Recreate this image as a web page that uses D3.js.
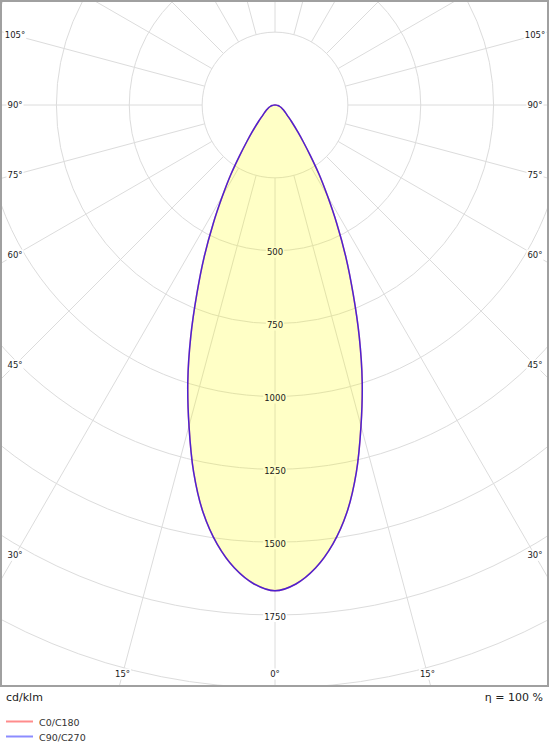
<!DOCTYPE html>
<html>
<head>
<meta charset="utf-8">
<script src="https://cdn.jsdelivr.net/npm/d3@7"></script>
<style>
  html, body { margin: 0; padding: 0; background: #fff; }
  svg { display: block; font-family: "DejaVu Sans", Verdana, sans-serif; }
</style>
</head>
<body>
<svg id="chart" width="550" height="750"></svg>
<script>
// ---- data ----
const gammaAngles = [0, 2.5, 5, 7.5, 10, 12.5, 15, 17.5, 20, 22.5, 25, 27.5, 30, 32.5, 35, 37.5, 40, 45, 50, 55, 60, 65, 70, 75, 80, 85, 90];
const c0c180 =      [1667, 1645, 1595, 1520, 1420, 1290, 1140, 995, 845, 700, 575, 460, 360, 280, 210, 160, 125, 80, 55, 42, 33, 26, 20, 15, 10, 5, 0];
const c90c270 =     [1667, 1645, 1595, 1520, 1420, 1290, 1140, 995, 845, 700, 575, 460, 360, 280, 210, 160, 125, 80, 55, 42, 33, 26, 20, 15, 10, 5, 0];
const seriesNames = ["C0/C180", "C90/C270"];
const seriesColors = ["#ff0000", "#0000ff"];
const ringValues = [250, 500, 750, 1000, 1250, 1500, 1750, 2000];
const ringLabels = [500, 750, 1000, 1250, 1500, 1750];
const spokeAngles = d3.range(0, 181, 15);
const angleLabels = [0, 15, 30, 45, 60, 75, 90, 105];
const unitLabel = "cd/klm";
const effLabel = "η = 100 %";

// ---- layout ----
const svg = d3.select("#chart");
const cx = 275, cy = 105;
const frame = {x: 1, y: 1, w: 547, h: 685};
const r = d3.scaleLinear().domain([0, 2000]).range([0, 582.9]);
const rad = d => d * Math.PI / 180;

svg.append("rect").attr("width", 550).attr("height", 750).attr("fill", "#fff");
svg.append("clipPath").attr("id", "clip")
  .append("rect").attr("x", frame.x).attr("y", frame.y).attr("width", frame.w).attr("height", frame.h);

const plot = svg.append("g").attr("clip-path", "url(#clip)");
const g = plot.append("g").attr("transform", `translate(${cx},${cy})`);

// rings
g.selectAll("circle.ring").data(ringValues).join("circle")
  .attr("class", "ring").attr("r", d => r(d))
  .attr("fill", "none").attr("stroke", "#dcdcdc").attr("stroke-width", 1);

// spokes (both sides), from inner ring outward
const spokes = [];
spokeAngles.forEach(a => { spokes.push({a, s: 1}); if (a !== 0 && a !== 180) spokes.push({a, s: -1}); });
g.selectAll("line.spoke").data(spokes).join("line")
  .attr("class", "spoke")
  .attr("x1", d => d.s * Math.sin(rad(d.a)) * r(250))
  .attr("y1", d => Math.cos(rad(d.a)) * r(250))
  .attr("x2", d => d.s * Math.sin(rad(d.a)) * 900)
  .attr("y2", d => Math.cos(rad(d.a)) * 900)
  .attr("stroke", "#dcdcdc").attr("stroke-width", 1);

// labels: background boxes now, text later (above fill)
const labelQueue = [];
function boxedText(parent, x, y, text, size) {
  const t = parent.append("text").attr("x", x).attr("y", y)
    .attr("text-anchor", "middle").attr("dominant-baseline", "central")
    .attr("font-size", size).text(text);
  const bb = t.node().getBBox();
  t.remove();
  parent.append("rect").attr("fill", "#fff")
    .attr("x", bb.x - 1).attr("y", bb.y - 0.5).attr("width", bb.width + 2).attr("height", bb.height + 1);
  labelQueue.push({x, y, text, size});
}

// value labels along 0° axis
ringLabels.forEach(v => boxedText(g, 0, r(v) + 1.5, String(v), 8.5));

// angle labels on inset rectangle
const inset = {left: 15 - cx, right: 535 - cx, bottom: 674 - cy};
const angleItems = [];
angleLabels.forEach(a => { angleItems.push({a, s: 1}); if (a !== 0) angleItems.push({a, s: -1}); });
angleItems.forEach(d => {
  const dx = d.s * Math.sin(rad(d.a)), dy = Math.cos(rad(d.a));
  let t = Infinity;
  if (Math.abs(dx) > 1e-6) t = Math.min(t, (dx > 0 ? inset.right : inset.left) / dx);
  if (dy > 1e-6) t = Math.min(t, inset.bottom / dy);
  boxedText(g, dx * t, dy * t, d.a + "°", 8.5);
});

// curves
const series = [c0c180, c90c270];
function curvePoints(vals) {
  const pts = [];
  for (let i = gammaAngles.length - 1; i >= 0; i--) pts.push([Math.PI + rad(gammaAngles[i]), r(vals[i])]);
  for (let i = 1; i < gammaAngles.length; i++) pts.push([Math.PI - rad(gammaAngles[i]), r(vals[i])]);
  return pts;
}
const lineGen = d3.lineRadial().angle(d => d[0]).radius(d => d[1]).curve(d3.curveCatmullRomClosed);

series.forEach(vals => {
  g.append("path").attr("d", lineGen(curvePoints(vals)))
    .attr("fill", "#ffff00").attr("fill-opacity", 0.117).attr("stroke", "none");
});

// label texts above fill
labelQueue.forEach(l => {
  g.append("text").attr("x", l.x).attr("y", l.y)
    .attr("text-anchor", "middle").attr("dominant-baseline", "central")
    .attr("font-size", l.size).attr("fill", "#1a1a1a").text(l.text);
});

const curveOpacity = [0.55, 0.7];
series.forEach((vals, i) => {
  g.append("path").attr("d", lineGen(curvePoints(vals)))
    .attr("fill", "none").attr("stroke", seriesColors[i])
    .attr("stroke-opacity", curveOpacity[i]).attr("stroke-width", 1.5);
});

// frame
svg.append("rect").attr("x", frame.x).attr("y", frame.y).attr("width", frame.w).attr("height", frame.h)
  .attr("fill", "none").attr("stroke", "#a0a0a0").attr("stroke-width", 2);

// bottom texts
svg.append("text").attr("x", 6).attr("y", 697).attr("dominant-baseline", "central")
  .attr("font-size", 11).attr("fill", "#222").text(unitLabel);
svg.append("text").attr("x", 543).attr("y", 697).attr("text-anchor", "end").attr("dominant-baseline", "central")
  .attr("font-size", 11).attr("fill", "#222").text(effLabel);

// legend
const legend = svg.append("g");
seriesNames.forEach((name, i) => {
  const y = 721.5 + i * 15;
  legend.append("line").attr("x1", 6).attr("x2", 33).attr("y1", y).attr("y2", y)
    .attr("stroke", seriesColors[i]).attr("stroke-opacity", 0.45).attr("stroke-width", 2);
  legend.append("text").attr("x", 39).attr("y", y + 0.5).attr("dominant-baseline", "central")
    .attr("font-size", 9.5).attr("fill", "#333").text(name);
});
</script>
</body>
</html>
